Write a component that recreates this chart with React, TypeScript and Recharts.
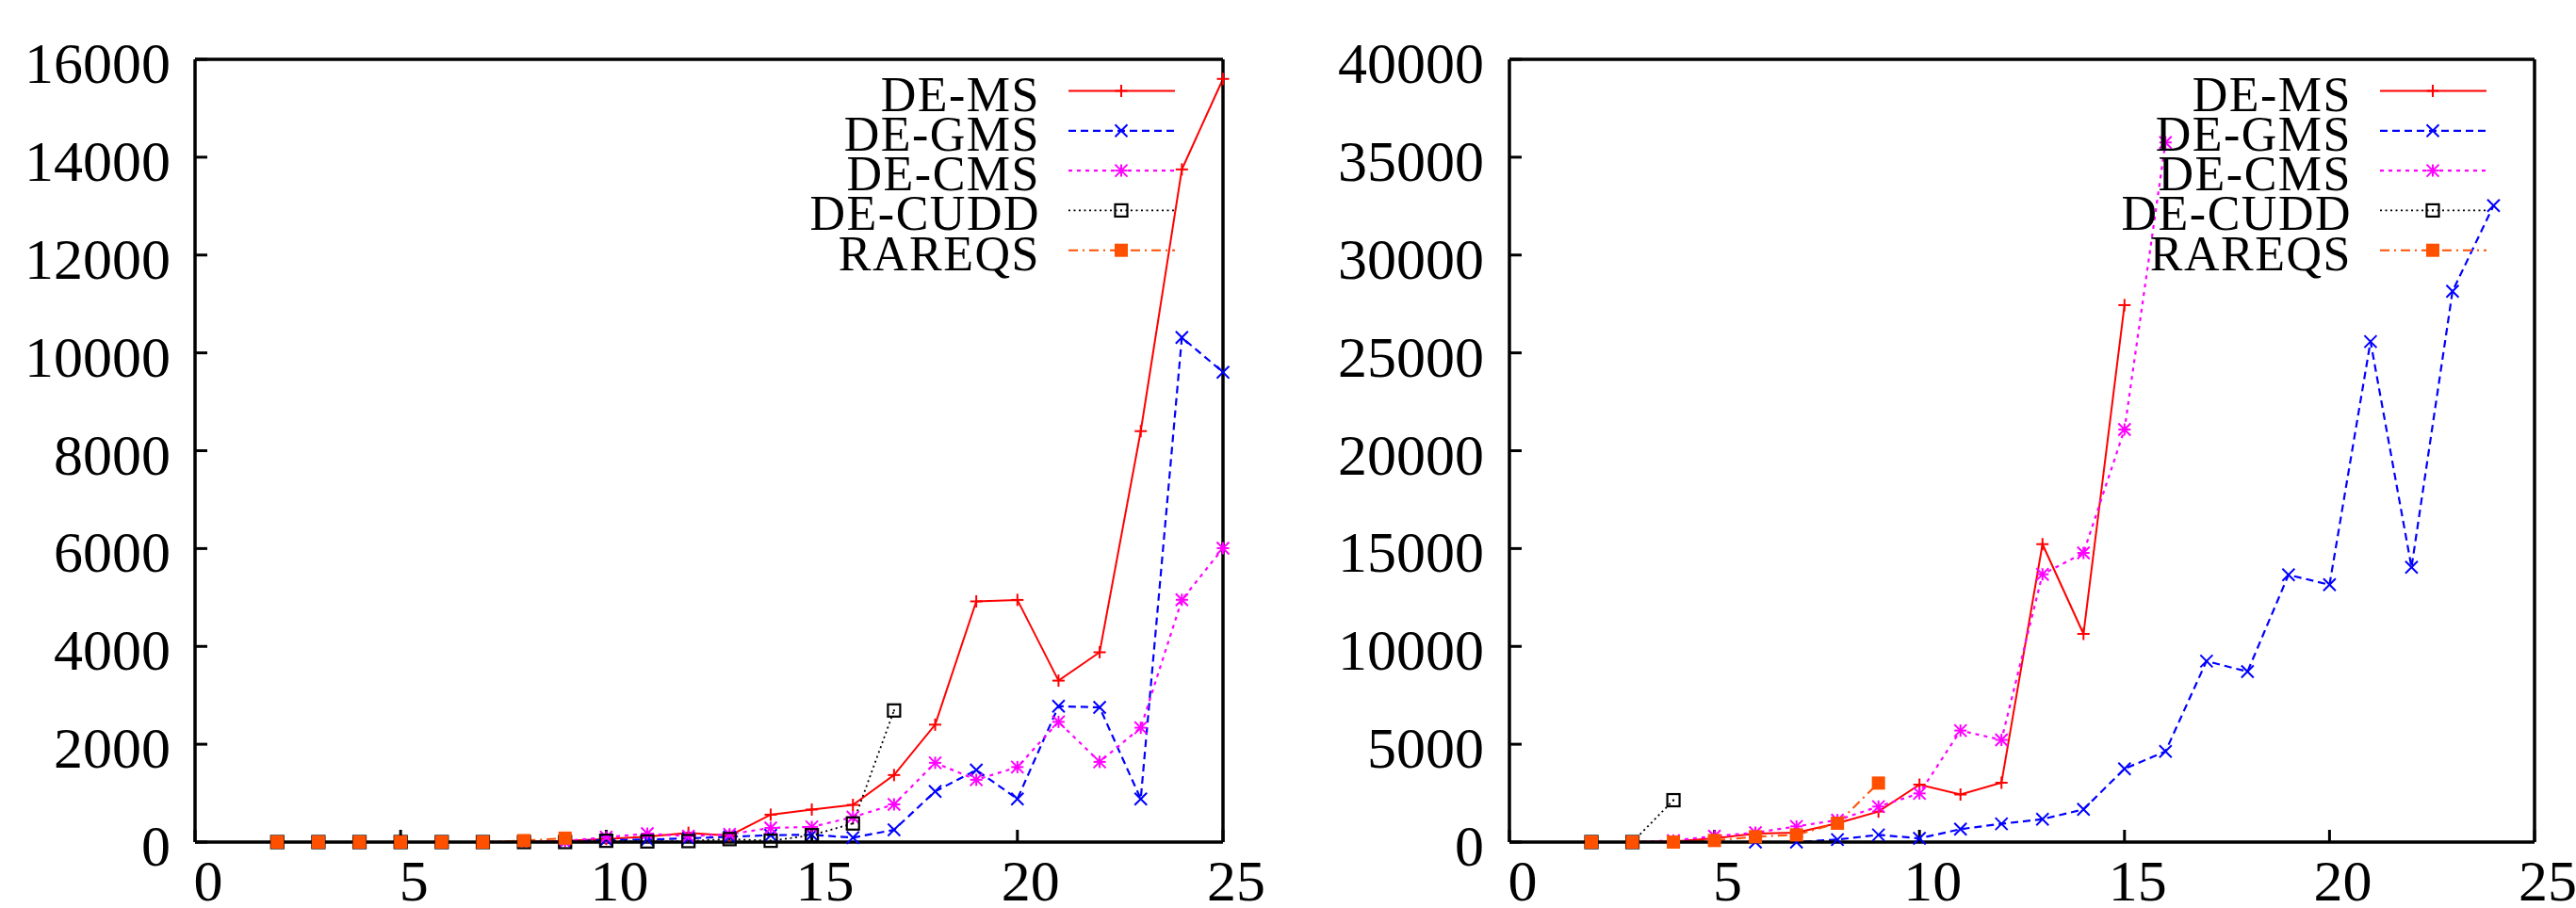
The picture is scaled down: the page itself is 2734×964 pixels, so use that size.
import React from 'react';
import { LineChart, Line, XAxis, YAxis, Legend } from 'recharts';

const SERIES_NAMES = ['DE-MS', 'DE-GMS', 'DE-CMS', 'DE-CUDD', 'RAREQS'];

// left panel, x = 2..25
const leftX = [2, 3, 4, 5, 6, 7, 8, 9, 10, 11, 12, 13, 14, 15, 16, 17, 18, 19, 20, 21, 22, 23, 24, 25];
const leftDeMs = [0, 0, 0, 0, 0, 0, 10, 26, 64, 109, 190, 130, 560, 665, 760, 1370, 2400, 4920, 4950, 3300, 3880, 8400, 13750, 15600];
const leftDeGms = [0, 0, 0, 0, 0, 0, 0, 5, 45, 50, 77, 109, 141, 150, 90, 250, 1036, 1473, 882, 2776, 2753, 882, 10314, 9604];
const leftDeCms = [0, 0, 0, 0, 0, 0, 0, 20, 100, 173, 120, 160, 290, 310, 510, 770, 1620, 1273, 1533, 2457, 1639, 2337, 4952, 6007];
const leftDeCudd = [0, 0, 0, 0, 0, 0, 0, 0, 26, 13, 20, 60, 26, 141, 380, 2690];
const leftRareqs = [0, 0, 0, 0, 0, 0, 30, 80];

// right panel, x = 2..24
const rightX = [2, 3, 4, 5, 6, 7, 8, 9, 10, 11, 12, 13, 14, 15, 16, 17, 18, 19, 20, 21, 22, 23, 24];
const rightDeMs = [0, 0, 32, 192, 433, 481, 962, 1556, 2935, 2430, 3032, 15224, 10637, 27440];
const rightDeGms = [null, null, null, null, 0, 0, 128, 369, 190, 660, 934, 1170, 1670, 3745, 4630, 9246, 8712, 13655, 13150, 25577, 14040, 28147, 32528];
const rightDeCms = [0, 0, 80, 300, 481, 802, 1123, 1813, 2486, 5699, 5222, 13684, 14776, 21082, 35752];
const rightDeCudd = [0, 0, 2140];
const rightRareqs = [0, 0, 0, 80, 273, 369, 962, 3015];

const xTicks = [0, 5, 10, 15, 20, 25];
const leftYTicks = [0, 2000, 4000, 6000, 8000, 10000, 12000, 14000, 16000];
const rightYTicks = [0, 5000, 10000, 15000, 20000, 25000, 30000, 35000, 40000];

const FONT = '"Liberation Serif", "Times New Roman", serif';

type MarkerKind = 'plus' | 'cross' | 'star' | 'box' | 'filledBox';

const STYLES: { key: string; color: string; dash?: string; marker: MarkerKind; width: number }[] = [
  { key: 'ms', color: '#ff0000', marker: 'plus', width: 2 },
  { key: 'gms', color: '#0000ff', dash: '8 5', marker: 'cross', width: 2.2 },
  { key: 'cms', color: '#ff00ff', dash: '4 5', marker: 'star', width: 2.2 },
  { key: 'cudd', color: '#000000', dash: '2 3.5', marker: 'box', width: 1.8 },
  { key: 'rareqs', color: '#ff5000', dash: '10 5 2 5', marker: 'filledBox', width: 2 },
];

const buildRows = (xs: number[], cols: (number | null)[][]) =>
  xs.map((x, i) => {
    const row: Record<string, number | null> = { x };
    STYLES.forEach((s, k) => {
      const v = cols[k][i];
      row[s.key] = v === undefined ? null : v;
    });
    return row;
  });

const leftRows = buildRows(leftX, [leftDeMs, leftDeGms, leftDeCms, leftDeCudd, leftRareqs]);
const rightRows = buildRows(rightX, [rightDeMs, rightDeGms, rightDeCms, rightDeCudd, rightRareqs]);

const Marker = ({ kind, cx, cy, color }: { kind: MarkerKind; cx: number; cy: number; color: string }) => {
  const s = 6.5;
  const plus = (
    <>
      <line x1={cx - s} y1={cy} x2={cx + s} y2={cy} />
      <line x1={cx} y1={cy - s} x2={cx} y2={cy + s} />
    </>
  );
  const cross = (
    <>
      <line x1={cx - s} y1={cy - s} x2={cx + s} y2={cy + s} />
      <line x1={cx - s} y1={cy + s} x2={cx + s} y2={cy - s} />
    </>
  );
  if (kind === 'plus') return <g stroke={color} strokeWidth={2}>{plus}</g>;
  if (kind === 'cross') return <g stroke={color} strokeWidth={2}>{cross}</g>;
  if (kind === 'star') return <g stroke={color} strokeWidth={2}>{plus}{cross}</g>;
  if (kind === 'box')
    return (
      <g>
        <rect x={cx - 6.5} y={cy - 6.5} width={13} height={13} fill="none" stroke={color} strokeWidth={2.2} />
        <rect x={cx - 1} y={cy - 1} width={2} height={2} fill={color} />
      </g>
    );
  return <rect x={cx - 7} y={cy - 7} width={14} height={14} fill={color} />;
};

const dotFor = (kind: MarkerKind, color: string) => (p: any) => {
  if (p.cx == null || p.cy == null || p.value == null || Number.isNaN(p.cy)) return <g key={`e-${p.index}`} />;
  return (
    <g key={`d-${p.index}`}>
      <Marker kind={kind} cx={p.cx} cy={p.cy} color={color} />
    </g>
  );
};

const LegendBox = () => (
  <svg width={450} height={250}>
    {STYLES.map((s, i) => {
      const y = 26.5 + i * 42.3;
      return (
        <g key={s.key}>
          <text x={256} y={y + 21} textAnchor="end" fontFamily={FONT} fontSize={52} letterSpacing={1.5} fill="#000">
            {SERIES_NAMES[i]}
          </text>
          <line x1={286} x2={399} y1={y} y2={y} stroke={s.color} strokeWidth={s.width} strokeDasharray={s.dash} />
          <Marker kind={s.marker} cx={342} cy={y} color={s.color} />
        </g>
      );
    })}
  </svg>
);

interface PanelProps {
  rows: Record<string, number | null>[];
  yMax: number;
  yTicks: number[];
  yAxisWidth: number;
  marginRight: number;
  yTickMargin: number;
}

const W = 1367;
const H = 964;
const TOP = 62;

const Panel = ({ rows, yMax, yTicks, yAxisWidth, marginRight, yTickMargin }: PanelProps) => {
  const axisLine = { stroke: '#000', strokeWidth: 3.5 };
  const tickLine = { stroke: '#000', strokeWidth: 3 };
  const plotRight = W - marginRight - 1;
  return (
    <LineChart width={W} height={H} data={rows} margin={{ top: TOP, right: marginRight, bottom: 0, left: 0 }}>
      <XAxis
        dataKey="x"
        type="number"
        domain={[0, 25]}
        ticks={xTicks}
        interval={0}
        height={70}
        stroke="#000"
        strokeWidth={3.5}
        tickSize={-13}
        tickMargin={31}
        axisLine={axisLine}
        tickLine={tickLine}
        tick={{ fill: '#000', fontSize: 62, fontFamily: FONT, dx: 14, strokeWidth: 0 }}
      />
      <XAxis
        xAxisId="top"
        orientation="top"
        dataKey="x"
        type="number"
        domain={[0, 25]}
        ticks={xTicks}
        interval={0}
        height={1}
        stroke="#000"
        strokeWidth={3.5}
        tickSize={-13}
        axisLine={axisLine}
        tickLine={tickLine}
        tick={false}
      />
      <YAxis
        type="number"
        domain={[0, yMax]}
        ticks={yTicks}
        interval={0}
        width={yAxisWidth}
        stroke="#000"
        strokeWidth={3.5}
        tickSize={-13}
        tickMargin={yTickMargin}
        axisLine={axisLine}
        tickLine={tickLine}
        tick={{ fill: '#000', fontSize: 62, fontFamily: FONT, dy: 3, strokeWidth: 0 }}
      />
      <YAxis
        yAxisId="right"
        orientation="right"
        type="number"
        domain={[0, yMax]}
        ticks={yTicks}
        interval={0}
        width={1}
        stroke="#000"
        strokeWidth={3.5}
        tickSize={-13}
        axisLine={axisLine}
        tickLine={tickLine}
        tick={false}
      />
      {STYLES.map((s) => (
        <Line
          key={s.key}
          dataKey={s.key}
          name={s.key}
          type="linear"
          stroke={s.color}
          strokeWidth={s.width}
          strokeDasharray={s.dash}
          dot={dotFor(s.marker, s.color)}
          activeDot={false}
          connectNulls={false}
          isAnimationActive={false}
        />
      ))}
      <Legend
        layout="horizontal"
        verticalAlign="middle"
        align="center"
        content={() => <LegendBox />}
        wrapperStyle={{ left: plotRight - 450, top: 70, width: 450, height: 250 }}
      />
    </LineChart>
  );
};

export default function App() {
  return (
    <div style={{ position: 'absolute', left: 0, top: 0, width: 2734, height: 964, background: '#fff' }}>
      <div style={{ position: 'absolute', left: 0, top: 0 }}>
        <Panel rows={leftRows} yMax={16000} yTicks={leftYTicks} yAxisWidth={207} marginRight={68} yTickMargin={39} />
      </div>
      <div style={{ position: 'absolute', left: 1367, top: 0 }}>
        <Panel rows={rightRows} yMax={40000} yTicks={rightYTicks} yAxisWidth={235} marginRight={43} yTickMargin={40} />
      </div>
    </div>
  );
}
